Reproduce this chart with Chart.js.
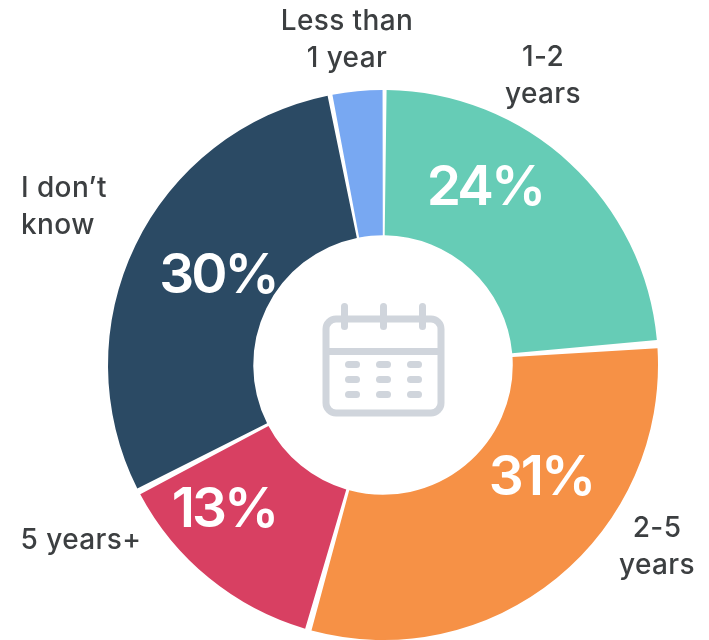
<!DOCTYPE html>
<html lang="en">
<head>
  <meta charset="UTF-8" />
  <title>Time frame</title>
  <script src="https://cdn.jsdelivr.net/npm/chart.js"></script>
  <style>
    html, body { margin: 0; padding: 0; background: #fff; }
    canvas { display: block; }
  </style>
</head>
<body>
  <canvas id="donut" width="709" height="640"></canvas>

  <script>
    const categories = ["1-2 years", "2-5 years", "5 years+", "I don’t know", "Less than 1 year"];
    const shares = [24, 31, 13, 30, 3];
    const colors = ["#66ccb6", "#f69146", "#d84062", "#2b4a64", "#78a8f2"];

    // lines of each outside label, anchor x, first baseline
    const sliceLabels = [
      { lines: ["1-2", "years"], x: 543, y: 66, align: "center" },
      { lines: ["2-5", "years"], x: 657, y: 537, align: "center" },
      { lines: ["5 years+"], x: 81, y: 549, align: "center" },
      { lines: ["I don’t", "know"], x: 21, y: 197, align: "left" },
      { lines: ["Less than", "1 year"], x: 347, y: 30, align: "center" }
    ];
    // centre of each percentage, the smallest slice has none
    const percentSpots = [[485, 188], [541, 478], [224, 510], [218, 276], null];

    function roundedBar(ctx, x, y, w, h, r) {
      ctx.beginPath();
      ctx.roundRect(x, y, w, h, r);
      ctx.fill();
    }

    // calendar in the hole of the ring
    function drawCalendar(ctx, cx, cy) {
      ctx.save();
      ctx.translate(cx, cy);
      ctx.strokeStyle = "#d0d5dc";
      ctx.fillStyle = "#d0d5dc";
      ctx.lineWidth = 7;
      ctx.beginPath();
      ctx.roundRect(-57, -46, 115, 94, 10);
      ctx.stroke();
      roundedBar(ctx, -60, -17, 121, 7, 1);
      [-39, 0, 39].forEach(dx => roundedBar(ctx, dx - 3, -62, 7, 27, 3.5));
      [-15, 0, 15].forEach(dy => {
        [-31, 0, 31].forEach(dx => roundedBar(ctx, dx - 7, dy + 11, 15, 7, 3.5));
      });
      ctx.restore();
    }

    const ringText = {
      id: "ringText",
      afterDraw(chart) {
        const ctx = chart.ctx;
        const meta = chart.getDatasetMeta(0).data[0];
        drawCalendar(ctx, meta.x, meta.y);

        ctx.save();
        ctx.fillStyle = "#3c3f41";
        ctx.textBaseline = "alphabetic";
        ctx.font = '500 28px Inter, sans-serif';
        ctx.letterSpacing = "0.4px";
        sliceLabels.forEach(label => {
          ctx.textAlign = label.align;
          label.lines.forEach((line, i) => ctx.fillText(line, label.x, label.y + i * 37));
        });

        ctx.fillStyle = "#fff";
        ctx.textAlign = "center";
        ctx.textBaseline = "middle";
        ctx.font = '600 55px Inter, sans-serif';
        ctx.letterSpacing = "-3px";
        shares.forEach((value, i) => {
          const spot = percentSpots[i];
          if (spot) ctx.fillText(value + "%", spot[0], spot[1]);
        });
        ctx.restore();
      }
    };

    new Chart(document.getElementById("donut"), {
      type: "doughnut",
      data: {
        labels: categories,
        datasets: [{
          data: shares,
          backgroundColor: colors,
          borderWidth: 0,
          spacing: 7
        }]
      },
      options: {
        responsive: false,
        animation: false,
        cutout: "46.5%",
        layout: { padding: { left: 108, right: 51, top: 90, bottom: 0 } },
        plugins: {
          legend: { display: false },
          tooltip: { enabled: false }
        }
      },
      plugins: [ringText]
    });
  </script>
</body>
</html>
